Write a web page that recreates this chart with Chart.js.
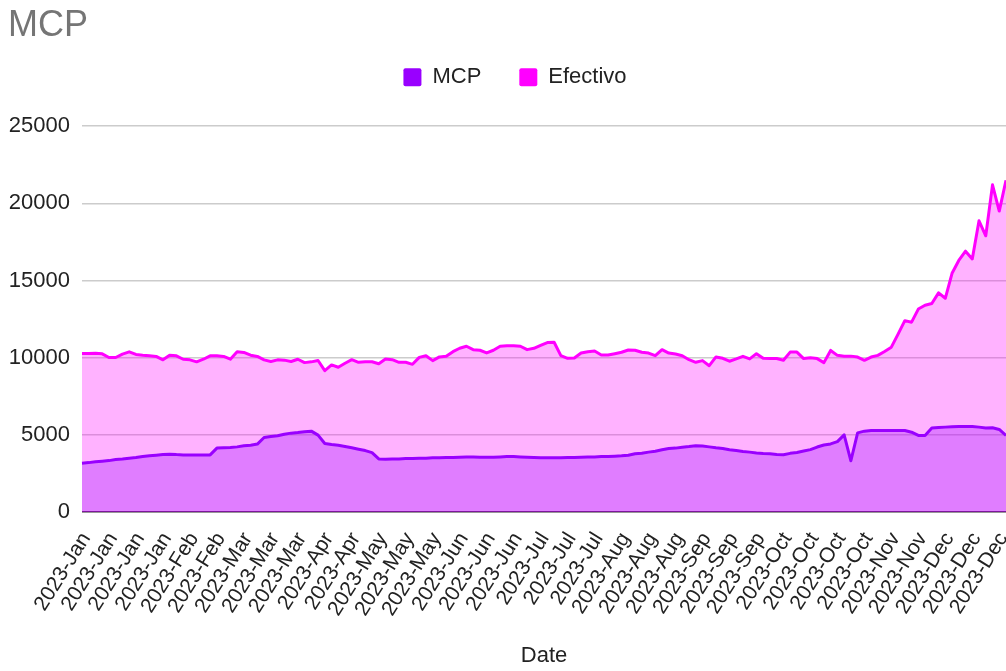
<!DOCTYPE html>
<html>
<head>
<meta charset="utf-8">
<script src="https://cdn.jsdelivr.net/npm/chart.js@4.4.0/dist/chart.umd.min.js"></script>
<style>
  html, body { margin: 0; padding: 0; background: #fff; }
  #wrap { width: 1006px; height: 671px; }
</style>
</head>
<body>
<div id="wrap"><canvas id="myChart"></canvas></div>
<script>
const tickLabels = [
    '2023-Jan', '2023-Jan', '2023-Jan', '2023-Jan', '2023-Feb', '2023-Feb',
    '2023-Mar', '2023-Mar', '2023-Mar', '2023-Apr', '2023-Apr',
    '2023-May', '2023-May', '2023-May', '2023-Jun', '2023-Jun', '2023-Jun',
    '2023-Jul', '2023-Jul', '2023-Jul', '2023-Aug', '2023-Aug', '2023-Aug',
    '2023-Sep', '2023-Sep', '2023-Sep', '2023-Oct', '2023-Oct', '2023-Oct', '2023-Oct',
    '2023-Nov', '2023-Nov', '2023-Dec', '2023-Dec', '2023-Dec'
];
const pointsPerTick = 4;

const mcp = [
    3160, 3200, 3250, 3290, 3330, 3400, 3440, 3490, 3530, 3590,
    3640, 3680, 3720, 3750, 3720, 3700, 3700, 3700, 3700, 3700,
    4140, 4160, 4180, 4220, 4290, 4330, 4400, 4830, 4890, 4940,
    5040, 5110, 5150, 5200, 5240, 4980, 4440, 4370, 4330, 4240,
    4160, 4070, 3980, 3850, 3440, 3420, 3440, 3440, 3460, 3460,
    3490, 3490, 3510, 3510, 3530, 3530, 3550, 3570, 3570, 3550,
    3550, 3550, 3570, 3590, 3590, 3570, 3550, 3530, 3510, 3510,
    3510, 3510, 3530, 3530, 3550, 3570, 3570, 3590, 3590, 3620,
    3640, 3680, 3770, 3810, 3880, 3940, 4030, 4110, 4140, 4200,
    4240, 4290, 4270, 4220, 4160, 4110, 4030, 3980, 3920, 3880,
    3830, 3790, 3780, 3720, 3710, 3800, 3860, 3950, 4040, 4210,
    4340, 4410, 4560, 5000, 3320, 5130, 5240, 5280, 5280, 5280,
    5280, 5280, 5280, 5170, 4960, 4960, 5440, 5480, 5500, 5520,
    5540, 5540, 5540, 5500, 5440, 5460, 5350, 4960
];

const efectivo = [
    10270, 10270, 10290, 10250, 10010, 10010, 10230, 10380, 10210, 10160,
    10120, 10080, 9860, 10160, 10120, 9900, 9860, 9730, 9900, 10120,
    10120, 10080, 9900, 10380, 10340, 10160, 10080, 9860, 9750, 9860,
    9840, 9750, 9900, 9680, 9730, 9820, 9160, 9530, 9380, 9640,
    9870, 9700, 9740, 9740, 9610, 9920, 9870, 9700, 9700, 9570,
    10020, 10130, 9810, 10050, 10090, 10390, 10610, 10740, 10520, 10480,
    10310, 10480, 10740, 10780, 10780, 10740, 10520, 10610, 10800, 10980,
    11000, 10130, 9960, 9980, 10300, 10390, 10430, 10170, 10170, 10260,
    10350, 10500, 10480, 10350, 10300, 10130, 10520, 10300, 10240, 10130,
    9870, 9700, 9810, 9480, 10050, 9960, 9770, 9920, 10090, 9920,
    10260, 9960, 9950, 9950, 9830, 10360, 10360, 9940, 10000, 9940,
    9680, 10470, 10150, 10100, 10100, 10040, 9830, 10040, 10150, 10400,
    10680, 11530, 12400, 12300, 13150, 13400, 13510, 14200, 13850, 15470,
    16300, 16900, 16400, 18870, 17900, 21200, 19500, 21500
];

// one category per data point, named after the tick it belongs to
const categories = mcp.map((v, i) => tickLabels[Math.floor(i / pointsPerTick)]);

const fontFamily = 'Arial, "Liberation Sans", sans-serif';

// push the plot down below the legend and nudge the legend a little right
const legendMargin = {
    id: 'legendMargin',
    beforeInit(chart) {
        const fit = chart.legend.fit;
        chart.legend.fit = function () {
            fit.bind(chart.legend)();
            this.height += 28;
        };
    },
    afterLayout(chart) {
        chart.legend.left += 8;
        chart.legend.right += 8;
    }
};

const ctx = document.getElementById('myChart').getContext('2d');

const data = {
    labels: categories,
    datasets: [
        {
            label: 'MCP',
            data: mcp,
            borderColor: '#9900ff',
            backgroundColor: 'rgba(153, 0, 255, 0.3)',
            fill: 'origin'
        },
        {
            label: 'Efectivo',
            data: efectivo,
            borderColor: '#ff00ff',
            backgroundColor: 'rgba(255, 0, 255, 0.3)',
            fill: 'origin'
        }
    ]
};

const config = {
    type: 'line',
    data: data,
    plugins: [legendMargin],
    options: {
        responsive: true,
        maintainAspectRatio: false,
        animation: false,
        layout: { padding: { left: 8, right: 0, top: 0, bottom: 0 } },
        elements: {
            line: { borderWidth: 3, tension: 0, borderJoinStyle: 'round' },
            point: { radius: 0 }
        },
        scales: {
            x: {
                grid: { display: false },
                border: { display: false },
                ticks: {
                    autoSkip: false,
                    minRotation: 58,
                    maxRotation: 58,
                    padding: 8,
                    labelOffset: 4,
                    color: '#222',
                    font: { family: fontFamily, size: 21 },
                    callback: function (value, index) {
                        return index % pointsPerTick === 0 ? this.getLabelForValue(value) : null;
                    }
                },
                title: {
                    display: true,
                    text: 'Date',
                    color: '#222',
                    font: { family: fontFamily, size: 22 },
                    padding: { top: 0, bottom: 2 }
                },
                afterFit: function (scale) {
                    scale.height = 159;
                    scale.paddingRight = 0;
                }
            },
            y: {
                min: 0,
                max: 25000,
                border: { display: false },
                grid: {
                    drawTicks: false,
                    lineWidth: 1.5,
                    color: function (c) { return c.tick && c.tick.value === 0 ? '#333' : '#cccccc'; }
                },
                ticks: {
                    stepSize: 5000,
                    padding: 12,
                    color: '#222',
                    font: { family: fontFamily, size: 22 },
                    callback: function (value) { return String(value); }
                },
                afterFit: function (scale) { scale.width = 74; }
            }
        },
        plugins: {
            title: {
                display: true,
                text: 'MCP',
                align: 'start',
                color: '#757575',
                font: { family: fontFamily, size: 36, weight: 'normal' },
                padding: { top: 4, bottom: -19 }
            },
            legend: {
                labels: {
                    boxWidth: 18,
                    boxHeight: 18,
                    padding: 38,
                    color: '#222',
                    useBorderRadius: true,
                    borderRadius: 2,
                    font: { family: fontFamily, size: 22 },
                    generateLabels: function (chart) {
                        const items = Chart.defaults.plugins.legend.labels.generateLabels(chart);
                        items.forEach(function (it) { it.fillStyle = it.strokeStyle; it.lineWidth = 0; });
                        return items;
                    }
                }
            },
            tooltip: { enabled: false }
        }
    }
};

const myChart = new Chart(ctx, config);
</script>
</body>
</html>
